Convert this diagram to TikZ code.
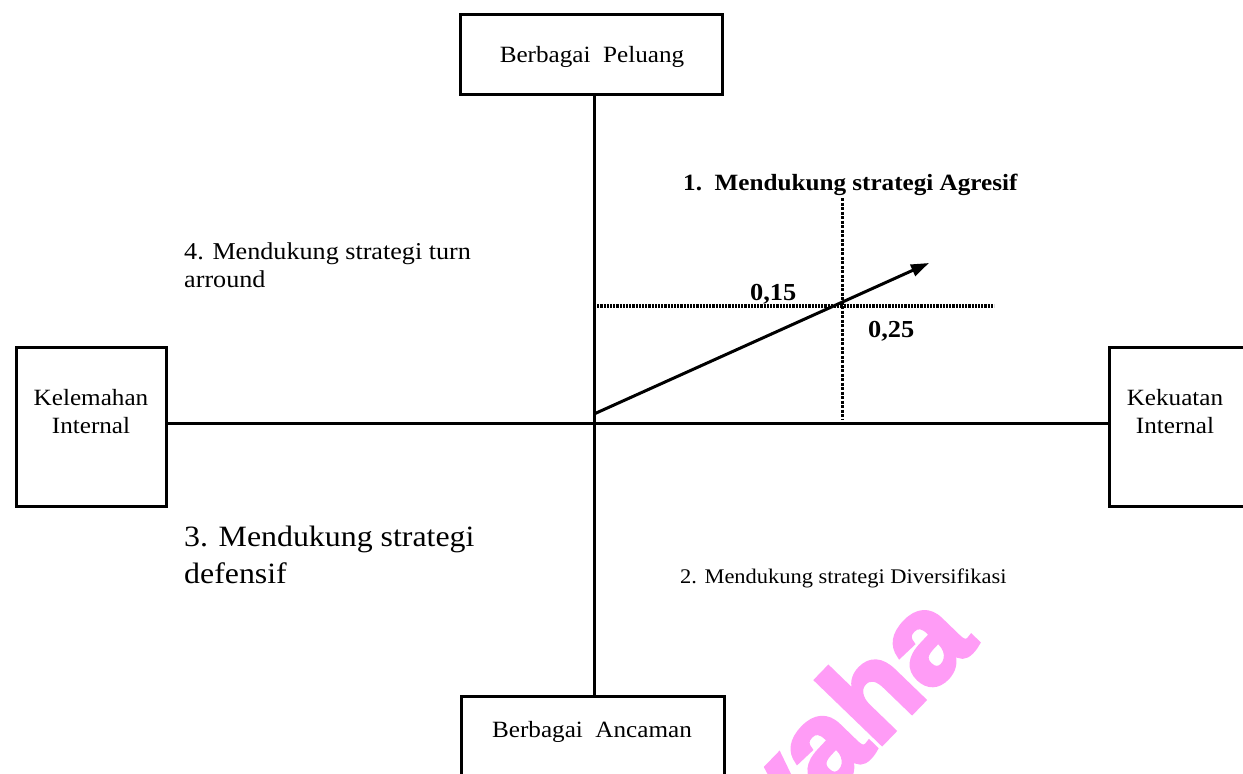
\documentclass[tikz,border=0pt]{standalone}
\usepackage{fontspec}
\setmainfont{Liberation Serif}[FakeStretch=1.08]
\newfontfamily\wmfont{Liberation Sans}[FakeBold=3.5]
\usetikzlibrary{arrows.meta}
\definecolor{wmpink}{RGB}{255,156,246}
\begin{document}
\begin{tikzpicture}[x=1pt,y=-1pt,
  box/.style={draw, line width=3pt, inner sep=0pt},
  axis/.style={line width=3pt},
  dotline/.style={line width=3.4pt, dash pattern=on 2.2pt off 1pt},
  vdot/.style={line width=3pt, dash pattern=on 3pt off 1.5pt},
  lbl/.style={inner sep=0pt},
  boxtxt/.style={inner sep=0pt, align=center, font=\fontsize{23.3}{28}\selectfont},
  txt/.style={inner sep=0pt, align=left},
  vec/.style={line width=3pt, -{Triangle[length=18pt,width=12pt]}}]
\useasboundingbox (0,0) rectangle (1243,774);
% boxes
\node[box, minimum width=262pt, minimum height=80pt] (bp) at (591.5,54.5) {};
\node[box, minimum width=150pt, minimum height=159pt] (kl) at (91.5,427) {};
\node[box, minimum width=150pt, minimum height=159pt] (ki) at (1184.5,427) {};
\node[box, minimum width=263pt, minimum height=110pt] (ba) at (593,751.5) {};
% box texts
\node[lbl, anchor=base, font=\fontsize{23.3}{28}\selectfont] (tbp) at (592,62) {Berbagai\ \ Peluang};
\node[boxtxt] (tkl) at (91,412) {Kelemahan\\Internal};
\node[boxtxt] (tki) at (1175,412) {Kekuatan\\Internal};
\node[lbl, anchor=base, font=\fontsize{23.3}{28}\selectfont] (tba) at (592,737) {Berbagai\ \ Ancaman};
% axes
\coordinate (o) at (594,423);
\draw[axis] (kl.east |- o) -- (ki.west |- o);
\draw[axis] (o |- bp.south) -- (o |- ba.north);
% dotted guides
\coordinate (hd1) at (594,306);
\coordinate (hd2) at (994,306);
\coordinate (vd1) at (842,198);
\coordinate (vd2) at (842,420);
\draw[dotline] (hd1) -- (hd2);
\draw[vdot] (vd1) -- (vd2);
% vector
\coordinate (a0) at (594,414);
\coordinate (a1) at (929,263);
\draw[vec] (a0) -- (a1);
% labels
\node[lbl, anchor=base west, font=\bfseries\fontsize{23.3}{26}\selectfont] (q1) at (683,190) {1.\ \ Mendukung strategi Agresif};
\node[lbl, anchor=base west, font=\bfseries\fontsize{24.4}{26}\selectfont] (v15) at (750,300) {0,15};
\node[lbl, anchor=base west, font=\bfseries\fontsize{24.4}{26}\selectfont] (v25) at (868,337) {0,25};
\node[txt, anchor=north west, font=\fontsize{24.2}{28}\selectfont] (q4) at (184,243) {4. Mendukung strategi turn\\arround};
\node[txt, anchor=north west, font=\fontsize{29.5}{37}\selectfont] (q3) at (184,526) {3. Mendukung strategi\\defensif};
\node[lbl, anchor=base west, font=\fontsize{20.8}{24}\selectfont] (q2) at (680,583) {2. Mendukung strategi Diversifikasi};
% watermark
\node[lbl, text=wmpink, rotate=46, font=\wmfont\bfseries\fontsize{126}{126}\selectfont] (wm) at (846,716) {vaha};
\end{tikzpicture}
\end{document}
